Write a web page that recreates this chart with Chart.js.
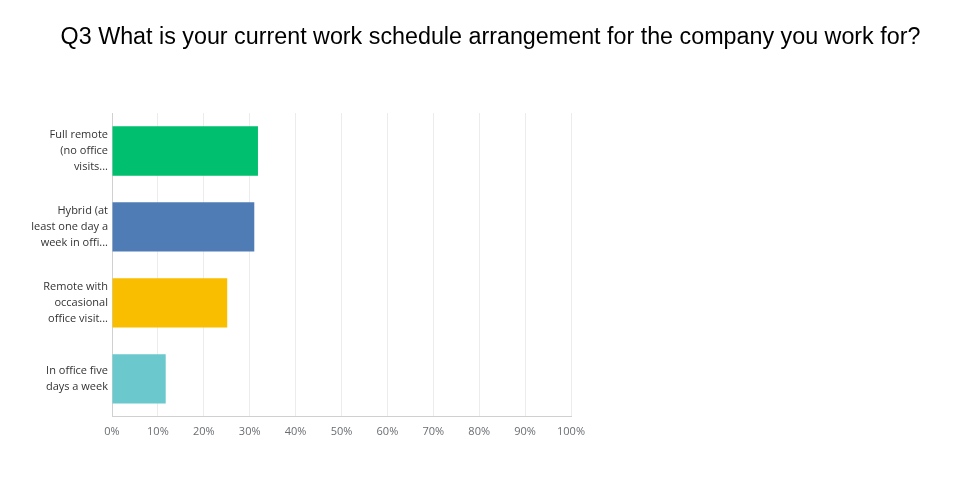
<!DOCTYPE html>
<html>
<head>
<meta charset="utf-8">
<script src="https://cdn.jsdelivr.net/npm/chart.js@4"></script>
<style>
  html, body { margin: 0; padding: 0; background: #fff; }
  #wrap { width: 977px; height: 488px; position: relative; }
  #titel {
    position: absolute; left: 0; top: 23px; width: 977px; text-align: center;
    font-family: "Liberation Sans", Arial, sans-serif; font-size: 23.3px; color: #000;
    padding-left: 4px; box-sizing: border-box;
  }
</style>
</head>
<body>
<div id="wrap"><div id="titel"></div><canvas id="chart"></canvas></div>
<script>
// Antwortkategorien (so wie sie im Bild abgeschnitten stehen)
const kategorien = [
  ["Full remote", "(no office", "visits..."],
  ["Hybrid (at", "least one day a", "week in offi..."],
  ["Remote with", "occasional", "office visit..."],
  ["In office five", "days a week"]
];
const anteile = [31.8, 31.0, 25.1, 11.7];
const farben = ["#00bf6f", "#507cb6", "#f9be00", "#6bc8cd"];
const tickWerte = [0, 10, 20, 30, 40, 50, 60, 70, 80, 90, 100];
const titel = "Q3 What is your current work schedule arrangement for the company you work for?";

document.getElementById('titel').textContent = titel;

const ctx = document.getElementById('chart').getContext('2d');
new Chart(ctx, {
  type: 'bar',
  data: {
    labels: kategorien,
    datasets: [{
      data: anteile,
      backgroundColor: farben,
      borderWidth: 0,
      barPercentage: 0.65,
      categoryPercentage: 1.0
    }]
  },
  options: {
    indexAxis: 'y',
    responsive: true,
    maintainAspectRatio: false,
    animation: false,
    layout: { padding: { left: 0, right: 406, top: 113, bottom: 42 } },
    plugins: {
      legend: { display: false },
      tooltip: { enabled: false }
    },
    scales: {
      x: {
        min: 0,
        max: 100,
        afterBuildTicks: axis => { axis.ticks = tickWerte.map(v => ({ value: v })); },
        grid: { color: '#ececec', lineWidth: 1, drawTicks: false },
        border: { color: '#d0d0d0' },
        ticks: {
          color: '#6a6e72',
          padding: 8,
          font: { family: 'Open Sans, sans-serif', size: 11 },
          callback: v => v + '%'
        }
      },
      y: {
        grid: { display: false, drawTicks: false },
        border: { color: '#d0d0d0' },
        ticks: {
          color: '#333',
          padding: 4,
          font: { family: 'Open Sans, sans-serif', size: 11, lineHeight: 1.45 }
        },
        afterFit: axis => { axis.width = 112; }
      }
    }
  }
});
</script>
</body>
</html>
